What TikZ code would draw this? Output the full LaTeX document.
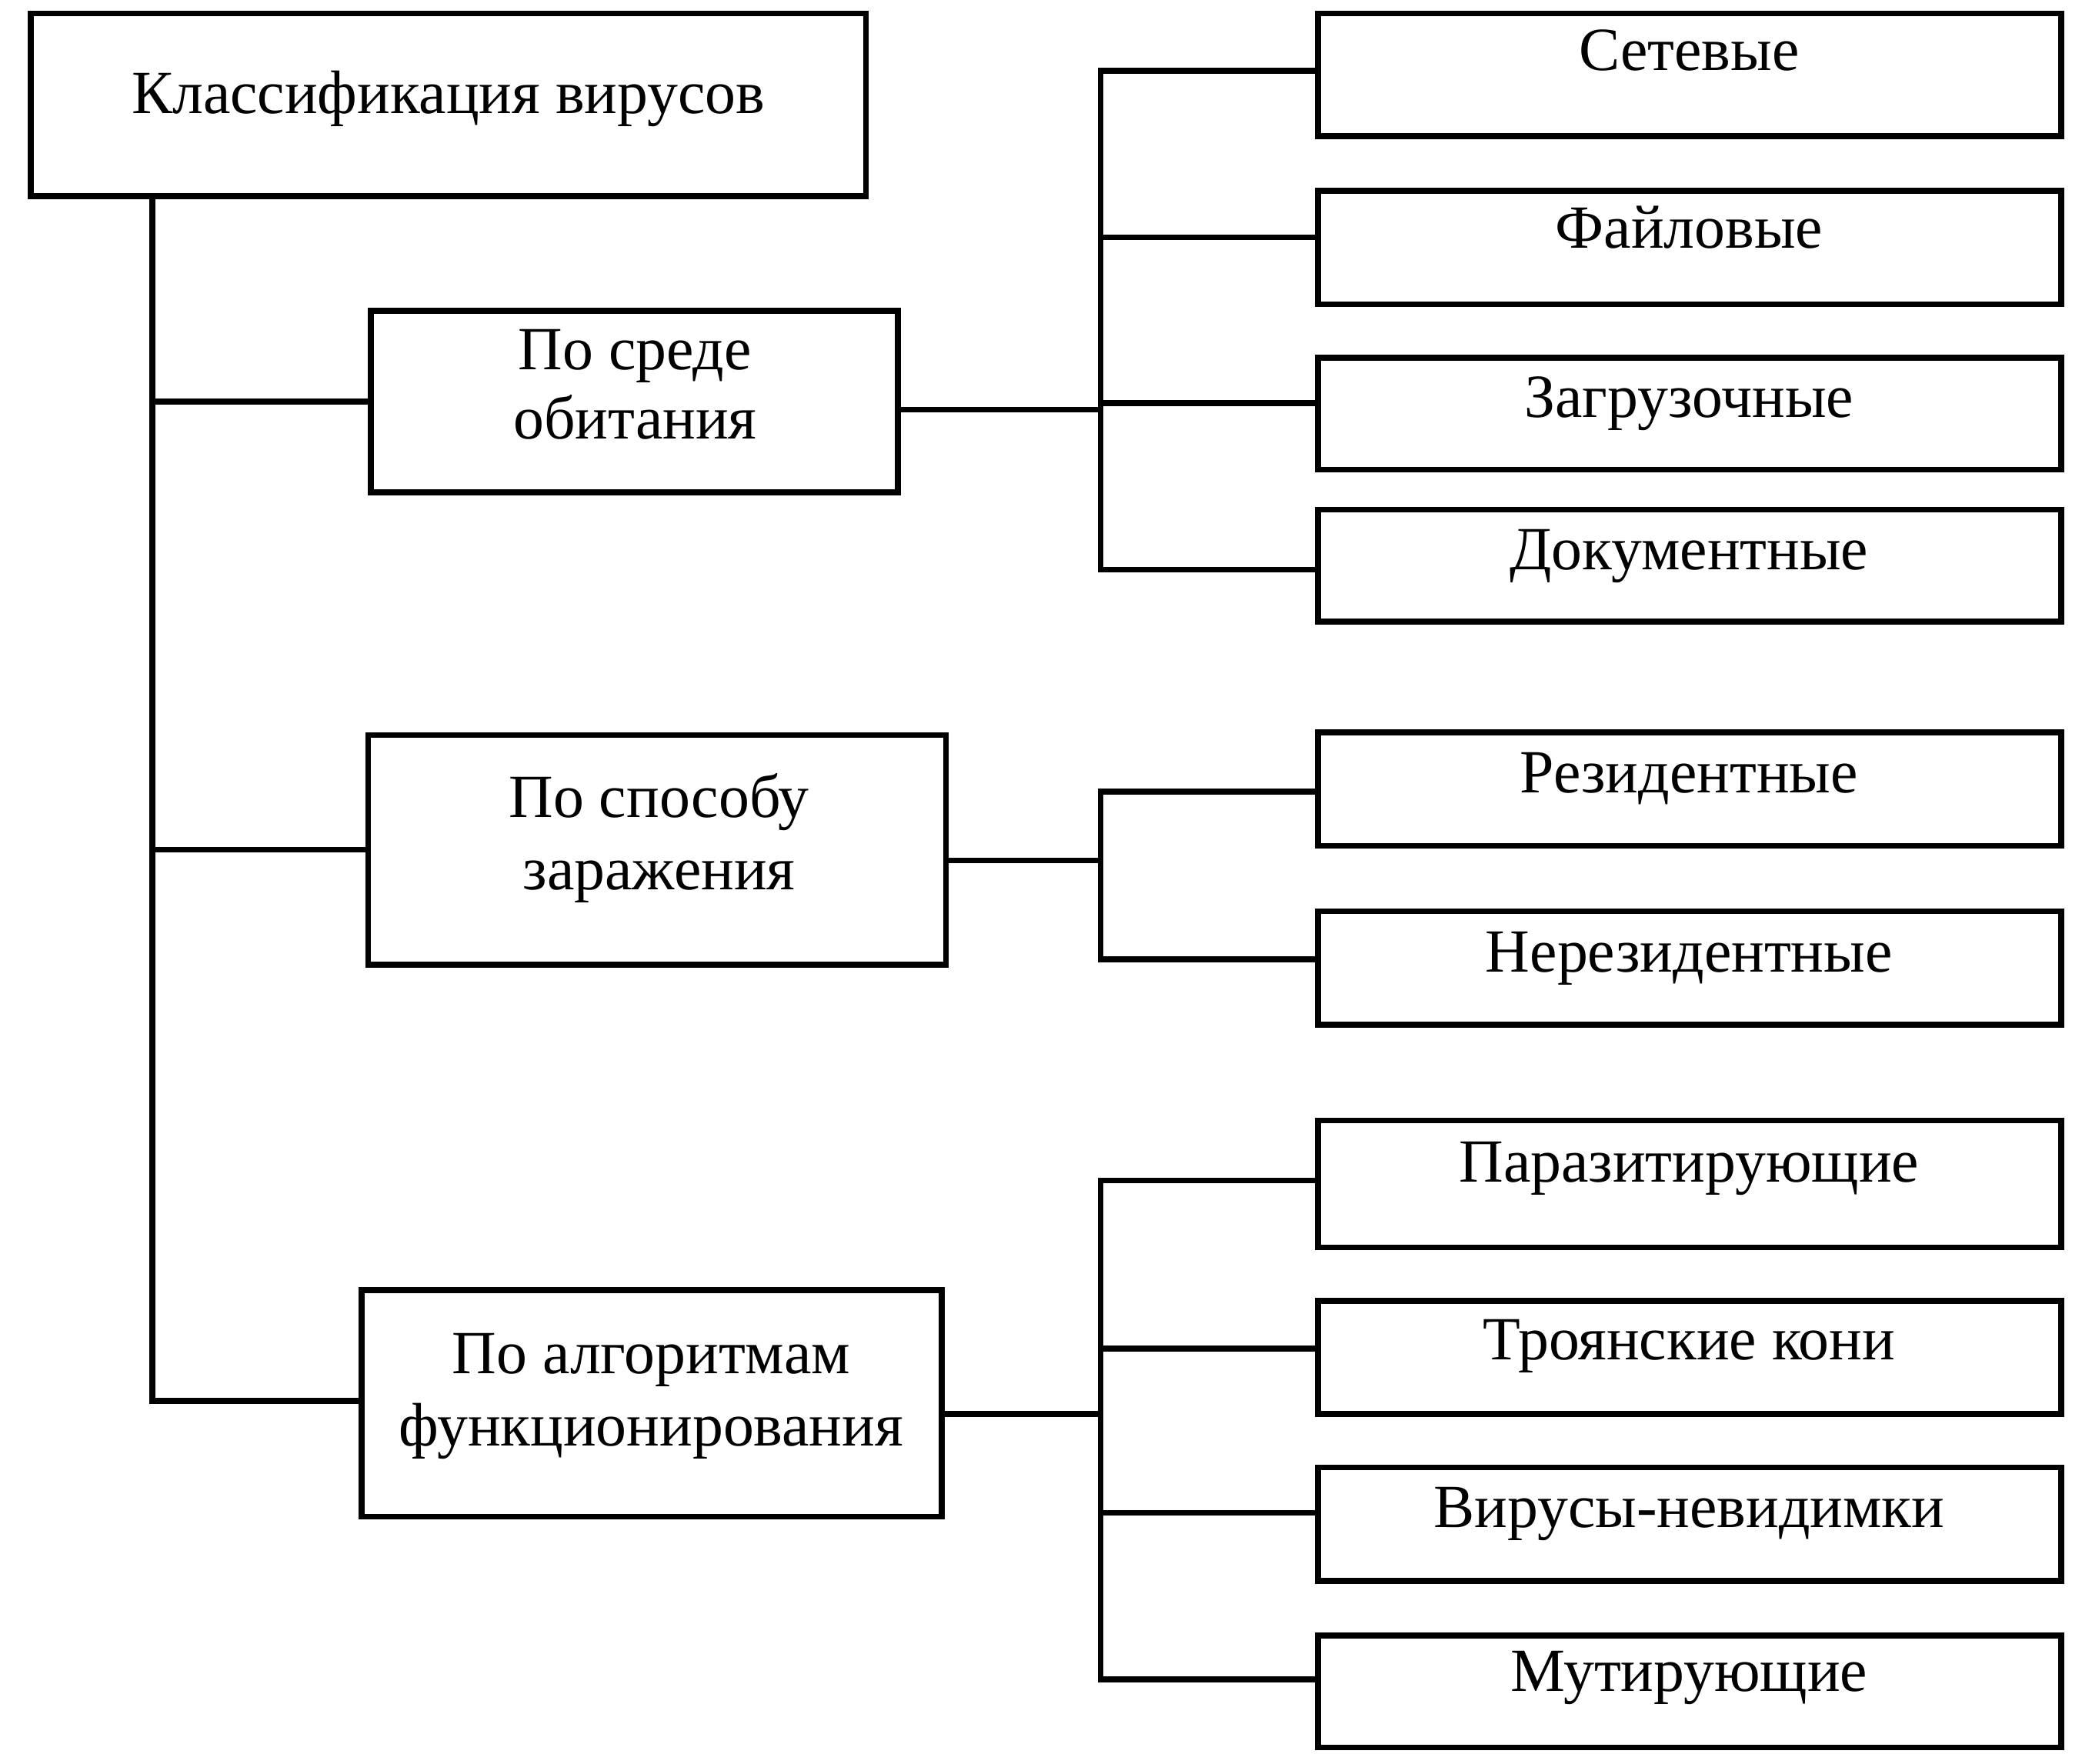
\documentclass[tikz,border=0pt]{standalone}
\usepackage{fontspec}
\setmainfont{Liberation Serif}
\begin{document}
\begin{tikzpicture}[x=0.5pt,y=-0.5pt,
  box/.style={draw, line width=2.2pt, rectangle, inner sep=0pt, outer sep=0pt},
  rbox/.style={box, minimum width=278.5pt},
  txt/.style={anchor=base, inner sep=0pt, font=\fontsize{23}{26}\selectfont},
  conn/.style={line width=2.2pt, line cap=rect},
  stub/.style={line width=2.2pt, line cap=butt}]
\useasboundingbox (0,0) rectangle (1568,1322);
% level 0 and 1 boxes
\node[box, minimum width=313pt, minimum height=68.5pt] (root) at (336,78.5) {};
\node[box, minimum width=197.5pt, minimum height=68pt] (A) at (475.5,301) {};
\node[box, minimum width=216.5pt, minimum height=86pt] (B) at (492.5,637) {};
\node[box, minimum width=217.5pt, minimum height=85pt] (C) at (488.5,1052) {};
% right column
\node[rbox, minimum height=46pt]   (s1) at (1266.5,56) {};
\node[rbox, minimum height=42.5pt] (s2) at (1266.5,185.5) {};
\node[rbox, minimum height=42pt]   (s3) at (1266.5,310) {};
\node[rbox, minimum height=42pt]   (s4) at (1266.5,424) {};
\node[rbox, minimum height=42.5pt] (r1) at (1266.5,591.5) {};
\node[rbox, minimum height=42.5pt] (r2) at (1266.5,725.5) {};
\node[rbox, minimum height=47.5pt] (p1) at (1266.5,887.5) {};
\node[rbox, minimum height=42.5pt] (p2) at (1266.5,1017.5) {};
\node[rbox, minimum height=42.5pt] (p3) at (1266.5,1142.5) {};
\node[rbox, minimum height=42pt]   (p4) at (1266.5,1268) {};
% texts
\node[txt] (troot) at (336,85) {Классификация вирусов};
\node[txt] (tA1) at (476,277) {По среде};
\node[txt] (tA2) at (476,329) {обитания};
\node[txt] (tB1) at (494,613) {По способу};
\node[txt] (tB2) at (494,667) {заражения};
\node[txt] (tC1) at (488,1029.5) {По алгоритмам};
\node[txt] (tC2) at (488,1084) {функционирования};
\node[txt] (ts1) at (1266,53) {Сетевые};
\node[txt] (ts2) at (1266,186) {Файловые};
\node[txt] (ts3) at (1266,313) {Загрузочные};
\node[txt] (ts4) at (1266,427) {Документные};
\node[txt] (tr1) at (1266,594) {Резидентные};
\node[txt] (tr2) at (1266,728.5) {Нерезидентные};
\node[txt] (tp1) at (1266,886) {Паразитирующие};
\node[txt] (tp2) at (1266,1019) {Троянские кони};
\node[txt] (tp3) at (1266,1145) {Вирусы-невидимки};
\node[txt] (tp4) at (1266,1268) {Мутирующие};
% trunk
\coordinate (tr) at (114,0);
\draw[conn] (root.south -| tr) |- ([yshift=1pt]C.west);
\draw[stub] (tr |- A.west) -- (A.west);
\draw[stub] (tr |- B.west) -- (B.west);
% group 1
\draw[stub] ([yshift=-3pt]A.east) -- ++(152,0);
\draw[conn] ([yshift=1.5pt]s1.west) -- ++(-163,0) |- ([yshift=-1.5pt]s4.west);
\draw[stub] ([yshift=3.75pt]s2.west) -- ++(-163,0);
\draw[stub] ([yshift=4pt]s3.west) -- ++(-163,0);
% group 2
\draw[stub] ([yshift=-4pt]B.east) -- ++(116,0);
\draw[conn] ([yshift=-1pt]r1.west) -- ++(-163,0) |- ([yshift=3.25pt]r2.west);
% group 3
\draw[stub] ([yshift=-4pt]C.east) -- ++(119,0);
\draw[conn] ([yshift=1.25pt]p1.west) -- ++(-163,0) |- ([yshift=4.5pt]p4.west);
\draw[stub] ([yshift=3.25pt]p2.west) -- ++(-163,0);
\draw[stub] ([yshift=4.25pt]p3.west) -- ++(-163,0);
\end{tikzpicture}
\end{document}
